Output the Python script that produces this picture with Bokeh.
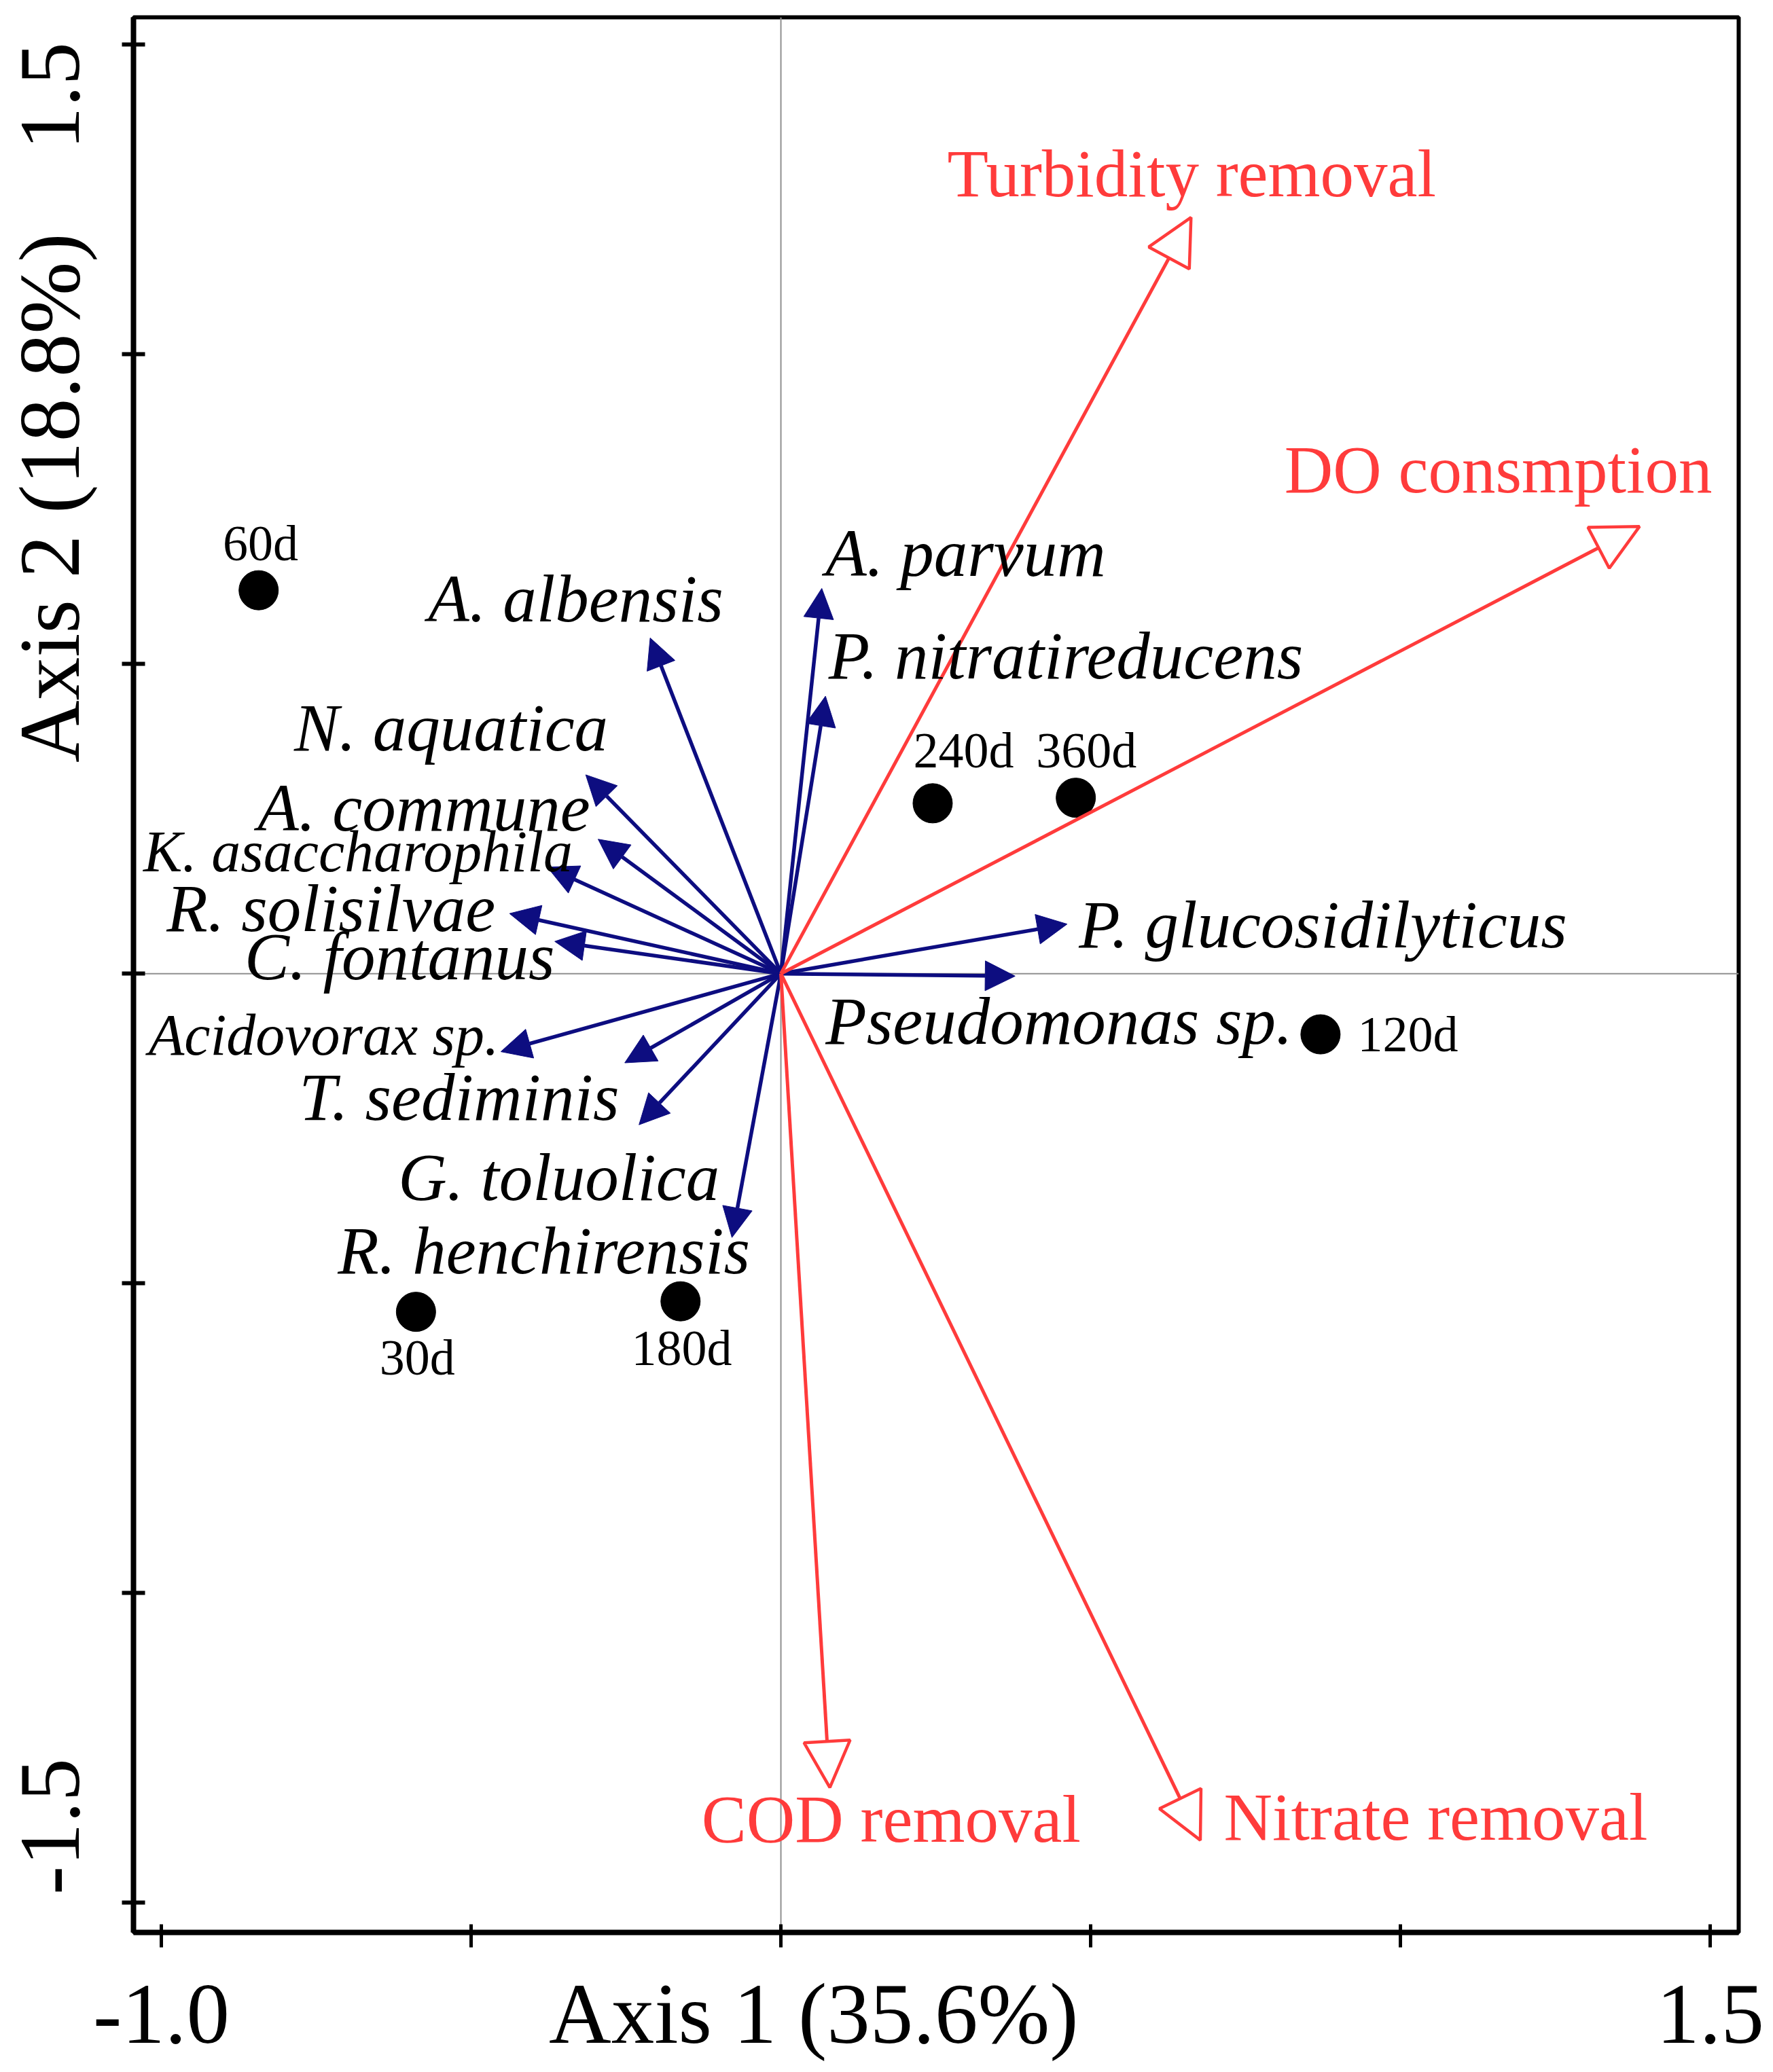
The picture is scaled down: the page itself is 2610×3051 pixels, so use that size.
from bokeh.plotting import figure
from bokeh.models import (ColumnDataSource, Arrow, NormalHead, Span, LabelSet,
                          FixedTicker, Range1d, LinearAxis)
from bokeh.embed import file_html
from bokeh.resources import INLINE

# ---------------- data ----------------
species = ["A. albensis", "N. aquatica", "A. commune", "K. asaccharophila",
           "R. solisilvae", "C. fontanus", "Acidovorax sp.", "T. sediminis",
           "G. toluolica", "R. henchirensis",
           "A. parvum", "P. nitratireducens", "P. glucosidilyticus", "Pseudomonas sp."]
species_x = [-0.211, -0.315, -0.295, -0.377, -0.438, -0.365, -0.452, -0.252,
             -0.229, -0.079, 0.066, 0.072, 0.462, 0.378]
species_y = [0.542, 0.321, 0.217, 0.172, 0.097, 0.052, -0.126, -0.144,
             -0.244, -0.426, 0.622, 0.448, 0.080, -0.004]
# text anchors of the species names (right edge for the first ten, left edge for the rest)
species_lx = [-0.093, -0.279, -0.308, -0.336, -0.461, -0.365, -0.455, -0.261,
              -0.099, -0.050, 0.072, 0.077, 0.481, 0.072]
species_ly = [0.605, 0.397, 0.268, 0.197, 0.105, 0.028, -0.099, -0.199,
              -0.329, -0.447, 0.679, 0.513, 0.079, -0.077]
species_fs = ["99px", "99px", "99px", "86px", "99px", "99px", "86px", "99px",
              "99px", "99px", "99px", "99px", "99px", "99px"]

env = ["Turbidity removal", "DO consmption", "COD removal", "Nitrate removal"]
env_x = [0.662, 1.386, 0.079, 0.677]
env_y = [1.221, 0.722, -1.314, -1.399]
env_lx = [0.663, 1.158, 0.178, 1.057]
env_ly = [1.292, 0.814, -1.365, -1.362]

samples = ["30d", "60d", "120d", "180d", "240d", "360d"]
sample_x = [-0.589, -0.843, 0.871, -0.162, 0.245, 0.476]
sample_y = [-0.546, 0.619, -0.098, -0.529, 0.275, 0.284]
sample_lx = [-0.587, -0.840, 1.012, -0.160, 0.295, 0.493]
sample_ly = [-0.620, 0.695, -0.098, -0.604, 0.360, 0.360]

x_ticks = [-1.0, -0.5, 0.0, 0.5, 1.0, 1.5]
y_ticks = [-1.5, -1.0, -0.5, 0.0, 0.5, 1.0, 1.5]
x_title = "Axis 1 (35.6%)"
y_title = "Axis 2 (18.8%)"
# where the texts of the bottom and left axis stand (tick labels and titles)
x_text_pos = [-1.0, 0.053, 1.5]
x_text = ["-1.0", x_title, "1.5"]
y_text_pos = [-1.377, 0.768, 1.417]
y_text = ["-1.5", y_title, "1.5"]

# ---------------- styles ----------------
BLUE = "#0d0d80"
RED = "#ff3b3b"
SERIF = "Liberation Serif"

p = figure(frame_width=2363, frame_height=2820,
           x_range=Range1d(-1.045, 1.546), y_range=Range1d(-1.548, 1.544),
           output_backend="svg", toolbar_location=None,
           min_border_left=195, min_border_right=50, min_border_top=25,
           min_border_bottom=200)
p.grid.visible = False
p.outline_line_color = "black"
p.outline_line_width = 6
p.background_fill_color = "white"
p.border_fill_color = "white"

# tick axes (marks only)
p.xaxis.ticker = FixedTicker(ticks=x_ticks)
p.xaxis.major_label_overrides = {t: "" for t in x_ticks}
p.xaxis.major_label_text_font_size = "1px"
p.xaxis.major_label_standoff = 0
p.xaxis.axis_line_width = 8
p.xaxis.major_tick_line_width = 5
p.xaxis.major_tick_in = 12
p.xaxis.major_tick_out = 22
p.xaxis.minor_tick_line_color = None

p.yaxis.ticker = FixedTicker(ticks=y_ticks)
p.yaxis.major_label_overrides = {t: "" for t in y_ticks}
p.yaxis.major_label_text_font_size = "1px"
p.yaxis.major_label_standoff = 0
p.yaxis.axis_line_width = 8
p.yaxis.major_tick_line_width = 6
p.yaxis.major_tick_in = 17
p.yaxis.major_tick_out = 17
p.yaxis.minor_tick_line_color = None

# text axes (labels and titles)
xt = LinearAxis(ticker=FixedTicker(ticks=x_text_pos),
                major_label_overrides={t: s for t, s in zip(x_text_pos, x_text)},
                axis_line_color=None, major_tick_line_color=None,
                minor_tick_line_color=None, major_tick_in=0, major_tick_out=0,
                major_label_standoff=27, major_label_text_font=SERIF,
                major_label_text_font_size="127px", major_label_text_color="black")
p.add_layout(xt, "below")
yt = LinearAxis(ticker=FixedTicker(ticks=y_text_pos),
                major_label_overrides={t: s for t, s in zip(y_text_pos, y_text)},
                axis_line_color=None, major_tick_line_color=None,
                minor_tick_line_color=None, major_tick_in=0, major_tick_out=0,
                major_label_standoff=36, major_label_orientation="vertical",
                major_label_text_font=SERIF, major_label_text_font_size="127px",
                major_label_text_color="black")
p.add_layout(yt, "left")

# zero lines
p.add_layout(Span(location=0, dimension="height", line_color="#8f8f8f", line_width=2, level="underlay"))
p.add_layout(Span(location=0, dimension="width", line_color="#8f8f8f", line_width=2, level="underlay"))

# species arrows
n = len(species)
sp_src = ColumnDataSource(dict(x0=[0.0] * n, y0=[0.0] * n, x1=species_x, y1=species_y))
p.add_layout(Arrow(end=NormalHead(size=44, fill_color=BLUE, line_color=BLUE, line_width=1),
                   x_start="x0", y_start="y0", x_end="x1", y_end="y1", source=sp_src,
                   line_color=BLUE, line_width=5.5))

# environmental arrows
m = len(env)
env_src = ColumnDataSource(dict(x0=[0.0] * m, y0=[0.0] * m, x1=env_x, y1=env_y))
p.add_layout(Arrow(end=NormalHead(size=68, fill_color="white", line_color=RED, line_width=4.5),
                   x_start="x0", y_start="y0", x_end="x1", y_end="y1", source=env_src,
                   line_color=RED, line_width=5))

# sample points
p.scatter(sample_x, sample_y, size=58, color="black")

# species labels
for i in range(n):
    src = ColumnDataSource(dict(x=[species_lx[i]], y=[species_ly[i]], t=[species[i]]))
    p.add_layout(LabelSet(x="x", y="y", text="t", source=src,
                          text_align="right" if i < 10 else "left",
                          text_baseline="middle", text_font=SERIF, text_font_style="italic",
                          text_font_size=species_fs[i], text_color="black"))

# environmental labels
env_lsrc = ColumnDataSource(dict(x=env_lx, y=env_ly, t=env))
p.add_layout(LabelSet(x="x", y="y", text="t", source=env_lsrc, text_align="center",
                      text_baseline="middle", text_font=SERIF, text_font_size="99px",
                      text_color=RED))

# sample labels
s_lsrc = ColumnDataSource(dict(x=sample_lx, y=sample_ly, t=samples))
p.add_layout(LabelSet(x="x", y="y", text="t", source=s_lsrc, text_align="center",
                      text_baseline="middle", text_font=SERIF, text_font_size="74px",
                      text_color="black"))

open("out.html", "w").write(file_html(p, INLINE))
